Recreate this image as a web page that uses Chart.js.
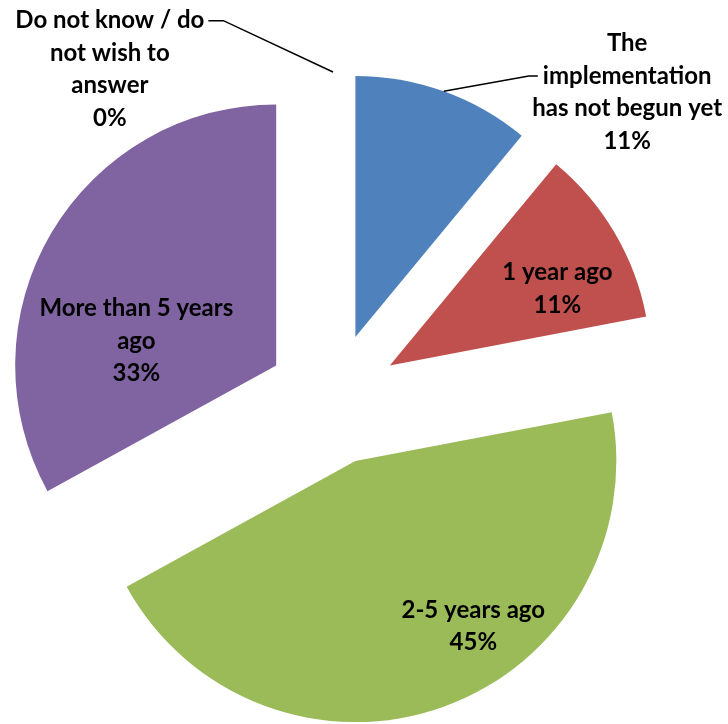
<!DOCTYPE html>
<html>
<head>
<meta charset="utf-8">
<script src="https://cdn.jsdelivr.net/npm/chart.js@4.4.1/dist/chart.umd.min.js"></script>
<style>
  html, body { margin: 0; padding: 0; background: #fff; }
  #wrap { width: 728px; height: 724px; position: relative; }
</style>
</head>
<body>
<div id="wrap"><canvas id="pieChart"></canvas></div>
<script>
// ── data ──
const CATEGORIES = [
  ['The', 'implementation', 'has not begun yet'],
  ['1 year ago'],
  ['2-5 years ago'],
  ['More than 5 years', 'ago'],
  ['Do not know / do', 'not wish to', 'answer'],
];
const VALUES = [11, 11, 45, 33, 0];
const COLORS = ['#4F81BD', '#C0504D', '#9BBB59', '#8064A2', '#4BACC6'];

// ── layout ──
const RADIUS  = 261;
const EXPLODE = 66;
const FONT    = 'bold 24px Lato';
const LINE_H  = 32.5;
// label spot per slice: angle shift from the slice middle (deg), distance from pie centre
const LABEL_PLACE = [
  { shift: 24.0,  dist: 425, leader: 'left',  leaderLine: 1 },
  { shift: 4.4,   dist: 250 },
  { shift: -11.9, dist: 267 },
  { shift: -14.2, dist: 205 },
  { shift: -34.1, dist: 398, leader: 'right', leaderLine: 0 },
];

// pull every slice out along its middle angle
const explodePlugin = {
  id: 'explode',
  beforeDatasetDraw(chart, args) {
    const ctx = chart.ctx;
    args.meta.data.forEach(arc => {
      const mid = (arc.startAngle + arc.endAngle) / 2;
      ctx.save();
      ctx.translate(Math.cos(mid) * EXPLODE, Math.sin(mid) * EXPLODE);
      arc.draw(ctx);
      ctx.restore();
    });
    return false;
  },
};

// slice labels + leader lines
const labelPlugin = {
  id: 'sliceLabels',
  afterDatasetsDraw(chart) {
    const ctx = chart.ctx;
    const arcs = chart.getDatasetMeta(0).data;
    ctx.save();
    ctx.font = FONT;
    ctx.fillStyle = '#000';
    ctx.textAlign = 'center';
    ctx.textBaseline = 'middle';
    arcs.forEach((arc, i) => {
      const place = LABEL_PLACE[i];
      const mid = (arc.startAngle + arc.endAngle) / 2;
      const ang = mid + place.shift * Math.PI / 180;
      const cx = arc.x + Math.cos(ang) * place.dist;
      const cy = arc.y + Math.sin(ang) * place.dist;
      const lines = [...CATEGORIES[i], VALUES[i] + '%'];
      const top = cy - (lines.length - 1) / 2 * LINE_H;
      lines.forEach((t, j) => ctx.fillText(t, cx, top + j * LINE_H));

      if (place.leader) {
        const r = arc.outerRadius + EXPLODE;
        const sx = arc.x + Math.cos(mid) * r;
        const sy = arc.y + Math.sin(mid) * r;
        const ly = top + place.leaderLine * LINE_H;
        const w = ctx.measureText(lines[place.leaderLine]).width;
        let ex, kx;
        if (place.leader === 'left') { ex = cx - w / 2 - 5; kx = ex - 9; }
        else { ex = cx + w / 2 + 4; kx = ex + 15; }
        ctx.beginPath();
        ctx.moveTo(sx, sy);
        ctx.lineTo(kx, ly);
        ctx.lineTo(ex, ly);
        ctx.strokeStyle = '#000';
        ctx.lineWidth = 1.5;
        ctx.stroke();
      }
    });
    ctx.restore();
  },
};

new Chart(document.getElementById('pieChart'), {
  type: 'pie',
  data: {
    labels: CATEGORIES,
    datasets: [{
      data: VALUES,
      backgroundColor: COLORS,
      borderWidth: 0,
      radius: RADIUS,
    }],
  },
  options: {
    responsive: true,
    maintainAspectRatio: false,
    animation: false,
    events: [],
    layout: { padding: { left: 0, right: 62, top: 74, bottom: 0 } },
    plugins: {
      legend: { display: false },
      tooltip: { enabled: false },
    },
  },
  plugins: [explodePlugin, labelPlugin],
});
</script>
</body>
</html>
